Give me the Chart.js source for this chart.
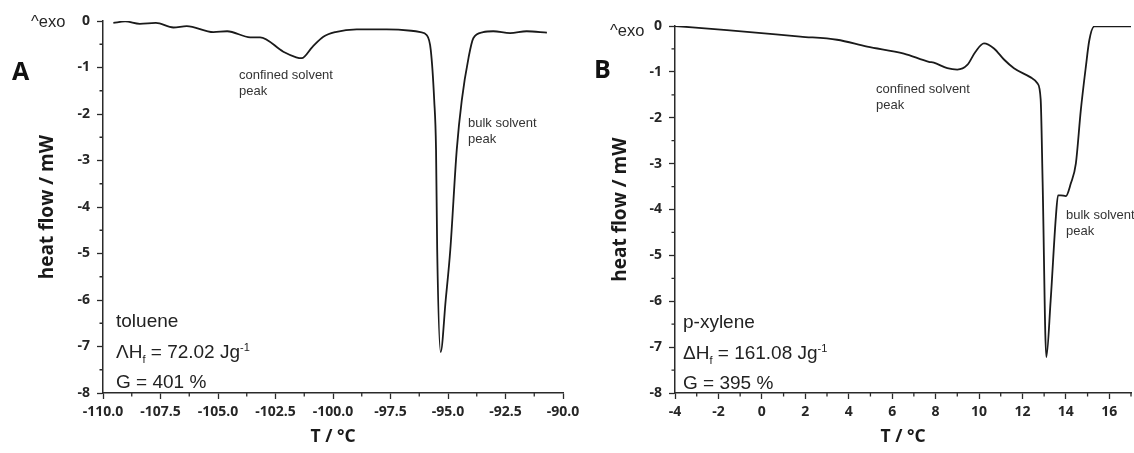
<!DOCTYPE html>
<html>
<head>
<meta charset="utf-8">
<script src="https://cdn.jsdelivr.net/npm/chart.js@4.4.0/dist/chart.umd.min.js"></script>
<style>
  body { margin: 0; background: #fff; width: 1134px; height: 453px; overflow: hidden; position: relative;
         font-family: "Liberation Sans", Arial, sans-serif; color: #262626; }
  canvas { position: absolute; top: 0; }
  .lbl { position: absolute; white-space: nowrap; }
  .letter { font-family: "Open Sans", sans-serif; font-weight: bold; font-size: 25px; line-height: 24px; color: #111; }
  .exo { font-size: 16.5px; line-height: 18px; }
  .note { font-size: 13px; line-height: 16px; color: #333; }
  .info { font-size: 19px; line-height: 30.5px; color: #222; }
  .info sub, .info sup { font-size: 11px; line-height: 0; }
</style>
</head>
<body>
<canvas id="chartA" width="590" height="453" style="left:0"></canvas>
<canvas id="chartB" width="567" height="453" style="left:567px"></canvas>

<div class="lbl letter" style="left:12px;top:58px">A</div>
<div class="lbl letter" style="left:594px;top:56px">B</div>
<div class="lbl exo" style="left:31px;top:12px">^exo</div>
<div class="lbl exo" style="left:610px;top:21px">^exo</div>

<div class="lbl note" style="left:239px;top:67px">confined solvent<br>peak</div>
<div class="lbl note" style="left:468px;top:115px">bulk solvent<br>peak</div>
<div class="lbl note" style="left:876px;top:81px">confined solvent<br>peak</div>
<div class="lbl note" style="left:1066px;top:207px">bulk solvent<br>peak</div>

<div class="lbl info" style="left:116px;top:306px">toluene<br>ΛH<sub>f</sub> = 72.02 Jg<sup>-1</sup><br>G = 401 %</div>
<div class="lbl info" style="left:683px;top:307px">p-xylene<br>ΔH<sub>f</sub> = 161.08 Jg<sup>-1</sup><br>G = 395 %</div>

<script>
// panel A - toluene (T in °C, heat flow in mW)
const tempA = [-109.55, -109.04, -108.4, -107.7, -106.94, -106.36, -105.2, -104.6, -103.6, -103.17,
  -102.16, -101.6, -101.36, -100.9, -100.42, -99.9, -98.97, -97.67, -96.6, -96.2, -95.93, -95.75,
  -95.6, -95.52, -95.47, -95.32, -95.1, -94.9, -94.62, -94.4, -94.1, -93.9, -93.47, -93.03, -92.3,
  -91.58, -90.7];
const heatA = [-0.04, -0.01, -0.06, -0.04, -0.14, -0.11, -0.24, -0.22, -0.35, -0.35,
  -0.66, -0.78, -0.80, -0.56, -0.34, -0.24, -0.18, -0.18, -0.21, -0.24, -0.30, -0.62,
  -1.7, -2.77, -4.92, -7.12, -6.0, -4.92, -2.77, -1.7, -0.77, -0.37, -0.24, -0.22, -0.26,
  -0.22, -0.25];

// panel B - p-xylene
const tempB = [-4, -1.61, 1.77, 3.46, 4.85, 6.54, 7.69, 7.92, 8.54, 9.0, 9.46, 9.84, 10.23, 10.69,
  11.15, 11.61, 12.38, 12.69, 12.84, 12.93, 13.1, 13.3, 13.54, 13.64, 13.77, 14.0, 14.23,
  14.46, 14.69, 14.92, 15.08, 15.31, 17.0];
const heatB = [0, -0.09, -0.23, -0.3, -0.45, -0.6, -0.78, -0.8, -0.92, -0.95, -0.85, -0.56, -0.38, -0.49,
  -0.73, -0.92, -1.12, -1.25, -1.6, -3.4, -7.22, -5.98, -4.16, -3.69, -3.69, -3.71, -3.43,
  -3.0, -1.83, -0.89, -0.31, -0.01, -0.01];

// tick values
const xTicksA = [-110, -107.5, -105, -102.5, -100, -97.5, -95, -92.5, -90];
const xMinorA = [-108.75, -106.25, -103.75, -101.25, -98.75, -96.25, -93.75, -91.25];
const xTicksB = [-4, -2, 0, 2, 4, 6, 8, 10, 12, 14, 16];
const xMinorB = [-3, -1, 1, 3, 5, 7, 9, 11, 13, 15, 17];
const yTicks = [0, -1, -2, -3, -4, -5, -6, -7, -8];
const yMinor = [-0.5, -1.5, -2.5, -3.5, -4.5, -5.5, -6.5, -7.5];

const axisColor = '#2a2a2a';

// short ticks between the labelled ones
const minorTicks = {
  id: 'minorTicks',
  afterDraw(chart, args, opts) {
    const { ctx, chartArea, scales: { x, y } } = chart;
    ctx.save();
    ctx.strokeStyle = axisColor;
    ctx.lineWidth = 1.3;
    ctx.beginPath();
    opts.x.forEach(v => {
      const px = x.getPixelForValue(v);
      ctx.moveTo(px, chartArea.bottom);
      ctx.lineTo(px, chartArea.bottom + 3.5);
    });
    opts.y.forEach(v => {
      const py = y.getPixelForValue(v);
      ctx.moveTo(chartArea.left, py);
      ctx.lineTo(chartArea.left - 3.5, py);
    });
    ctx.stroke();
    ctx.restore();
  }
};

function makeChart(id, temps, heats, xMin, xMax, xTicks, xMinor, fmt, pad, yWidth, yTitlePad) {
  return new Chart(document.getElementById(id), {
    type: 'line',
    data: {
      datasets: [{
        data: temps.map((t, i) => ({ x: t, y: heats[i] })),
        borderColor: '#1a1a1a',
        borderWidth: 1.8,
        pointRadius: 0,
        cubicInterpolationMode: 'monotone',
        fill: false
      }]
    },
    options: {
      responsive: false,
      animation: false,
      events: [],
      layout: { padding: pad },
      plugins: {
        legend: { display: false },
        tooltip: { enabled: false },
        minorTicks: { x: xMinor, y: yMinor }
      },
      scales: {
        x: {
          type: 'linear',
          min: xMin,
          max: xMax,
          afterBuildTicks: s => { s.ticks = xTicks.map(v => ({ value: v })); },
          afterFit: s => { s.height = 60; s.paddingLeft = 0; s.paddingRight = 0; },
          ticks: {
            callback: fmt,
            padding: 5,
            color: '#262626',
            maxRotation: 0,
            autoSkip: false,
            font: { family: '"Open Sans", sans-serif', weight: 'bold', size: 14 }
          },
          grid: { drawOnChartArea: false, tickLength: 6, color: axisColor, tickWidth: 1.3 },
          border: { color: axisColor, width: 1.5 },
          title: {
            display: true,
            text: 'T / °C',
            color: '#1a1a1a',
            padding: { top: 0, bottom: 5 },
            font: { family: '"Open Sans", sans-serif', weight: 'bold', size: 17.5 }
          }
        },
        y: {
          type: 'linear',
          min: -8,
          max: 0,
          afterBuildTicks: s => { s.ticks = yTicks.map(v => ({ value: v })); },
          afterFit: s => { s.width = yWidth; s.paddingTop = 0; s.paddingBottom = 0; },
          ticks: {
            padding: 7,
            color: '#262626',
            font: { family: '"Open Sans", sans-serif', weight: 'bold', size: 14 }
          },
          grid: { drawOnChartArea: false, tickLength: 6, color: axisColor, tickWidth: 1.3 },
          border: { color: axisColor, width: 1.5 },
          title: {
            display: true,
            text: 'heat flow / mW',
            color: '#1a1a1a',
            padding: { top: yTitlePad, bottom: 0 },
            font: { family: '"Open Sans", sans-serif', weight: 'bold', size: 19 }
          }
        }
      }
    },
    plugins: [minorTicks]
  });
}

makeChart('chartA', tempA, heatA, -110, -90, xTicksA, xMinorA, v => v.toFixed(1),
  { top: 21, right: 27, left: 0, bottom: 0 }, 103, 36);
makeChart('chartB', tempB, heatB, -4, 17, xTicksB, xMinorB, v => String(v),
  { top: 26, right: 3, left: 0, bottom: 0 }, 108, 42);
</script>
</body>
</html>
